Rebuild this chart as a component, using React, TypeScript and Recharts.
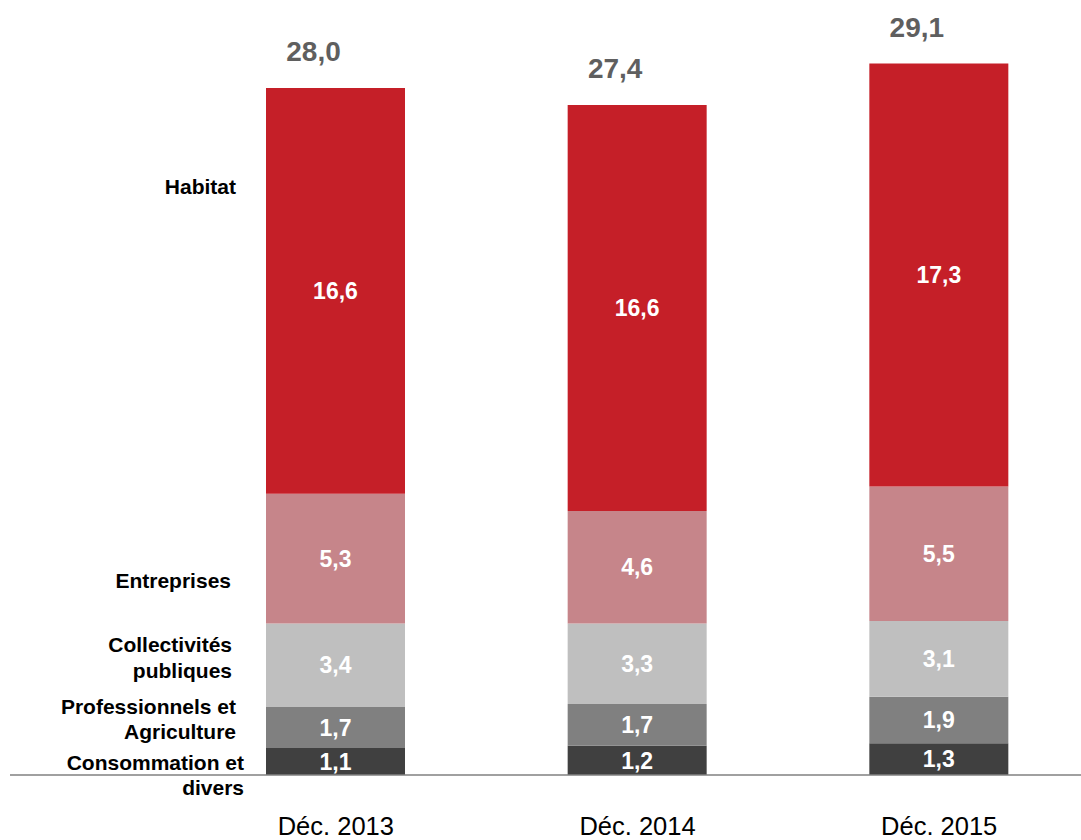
import { BarChart, Bar, XAxis, YAxis, LabelList } from "recharts";

const categories = ["Déc. 2013", "Déc. 2014", "Déc. 2015"];
const consommation = [1.1, 1.2, 1.3];
const professionnels = [1.7, 1.7, 1.9];
const collectivites = [3.4, 3.3, 3.1];
const entreprises = [5.3, 4.6, 5.5];
const habitat = [16.6, 16.6, 17.3];
const totals = [28.0, 27.4, 29.1];

const FONT = "'Liberation Sans', Arial, sans-serif";

// bottom to top; name lines shown on the left of the first bar
const series = [
  { key: "consommation", lines: ["Consommation et", "divers"], color: "#404040", dx: 22, dy: 0.5 },
  { key: "professionnels", lines: ["Professionnels et", "Agriculture"], color: "#808080", dx: 30, dy: -21 },
  { key: "collectivites", lines: ["Collectivités", "publiques"], color: "#BFBFBF", dx: 34, dy: -20.5 },
  { key: "entreprises", lines: ["Entreprises"], color: "#C6858A", dx: 35, dy: 21.5 },
  { key: "habitat", lines: ["Habitat"], color: "#C51F28", dx: 30, dy: -104.5 },
];

const data = categories.map((category, i) => ({
  category,
  consommation: consommation[i],
  professionnels: professionnels[i],
  collectivites: collectivites[i],
  entreprises: entreprises[i],
  habitat: habitat[i],
}));

const fmt = (v: number) => v.toFixed(1).replace(".", ",");

function box(props: any) {
  const vb = props.viewBox || props;
  return { x: Number(vb.x), y: Number(vb.y), width: Number(vb.width), height: Number(vb.height) };
}

function ValueLabel(props: any) {
  const { x, y, width, height } = box(props);
  return (
    <text
      x={x + width / 2}
      y={y + height / 2}
      dy="0.36em"
      textAnchor="middle"
      fill="#ffffff"
      fontFamily={FONT}
      fontWeight="bold"
      fontSize={23}
    >
      {fmt(Number(props.value))}
    </text>
  );
}

function makeNameLabel(s: (typeof series)[number]) {
  return (props: any) => {
    if (props.index !== 0) return null;
    const { x, y, height } = box(props);
    const cy = y + height / 2 + s.dy;
    return (
      <text textAnchor="end" fill="#000000" fontFamily={FONT} fontWeight="bold" fontSize={21}>
        {s.lines.map((l, k) => (
          <tspan key={k} x={x - s.dx} y={cy + k * 25.5} dy="0.36em">
            {l}
          </tspan>
        ))}
      </text>
    );
  };
}

function TotalLabel(props: any) {
  const { x, y, width } = box(props);
  const idx = props.index;
  return (
    <text
      x={x + width / 2 - 22}
      y={y - 27}
      textAnchor="middle"
      fill="#5F5F5F"
      fontFamily={FONT}
      fontWeight="bold"
      fontSize={28}
    >
      {fmt(totals[idx])}
    </text>
  );
}

function CategoryTick(props: any) {
  const { x, y, payload } = props;
  return (
    <text x={x} y={y + 60} textAnchor="middle" fill="#000000" fontFamily={FONT} fontSize={25.5}>
      {payload.value}
    </text>
  );
}

export default function App() {
  return (
    <div style={{ position: "absolute", left: 0, top: 0, width: 1081, height: 840, overflow: "hidden", background: "#fff" }}>
      <BarChart width={1090} height={840} data={data} margin={{ top: 41.5, right: 0, bottom: 0, left: 10 }}>
        <XAxis
          dataKey="category"
          height={65}
          axisLine={{ stroke: "#808080", strokeWidth: 1.5 }}
          tickLine={false}
          tickSize={0}
          tickMargin={0}
          interval={0}
          padding={{ left: 175, right: 0 }}
          tick={<CategoryTick />}
        />
        <YAxis hide domain={[0, 30]} />
        {series.map((s) => (
          <Bar key={s.key} dataKey={s.key} stackId="a" fill={s.color} barSize={139} isAnimationActive={false}>
            <LabelList dataKey={s.key} content={<ValueLabel />} />
            <LabelList dataKey={s.key} content={makeNameLabel(s)} />
            {s.key === "habitat" && <LabelList dataKey={s.key} content={<TotalLabel />} />}
          </Bar>
        ))}
      </BarChart>
    </div>
  );
}
